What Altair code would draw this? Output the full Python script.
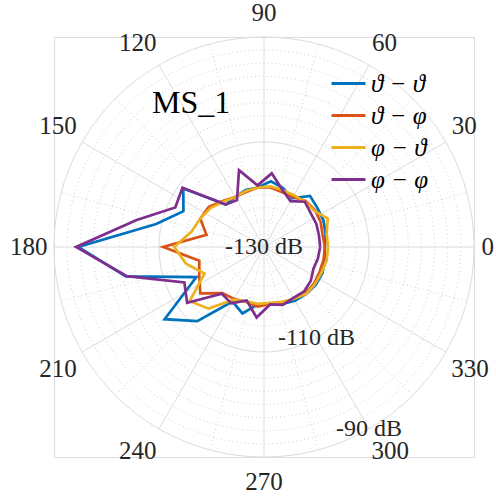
import altair as alt
import numpy as np
import pandas as pd

# ---- data (dB) sampled every 12 degrees ----
angle_deg = list(range(0, 360, 12))

theta_theta = [-118.4, -118.0, -117.6, -117.4, -116.9, -119.3, -118.2, -117.4, -118.6, -118.6,
               -119.0, -119.1, -111.0, -113.2, -109.0, -94.6, -103.1, -115.9, -106.6, -111.0,
               -118.0, -116.7, -119.0, -119.0, -118.6, -118.2, -118.0, -117.8, -117.8, -118.2]
theta_phi = [-118.4, -118.6, -118.2, -118.0, -118.2, -119.0, -119.0, -118.6, -118.6, -119.0,
             -119.0, -118.2, -117.0, -116.7, -118.8, -110.8, -117.4, -116.5, -115.0, -118.2,
             -118.6, -119.0, -118.6, -119.1, -118.8, -118.6, -118.2, -118.2, -118.4, -118.4]
phi_theta = [-117.8, -117.8, -116.7, -118.2, -118.4, -118.6, -118.6, -118.4, -118.6, -118.8,
             -119.0, -118.4, -117.4, -116.7, -115.9, -112.9, -114.8, -117.6, -112.5, -114.2,
             -118.4, -119.1, -119.1, -119.3, -119.0, -118.6, -118.0, -118.0, -118.0, -117.8]
phi_phi = [-119.3, -119.3, -119.1, -119.0, -118.4, -119.9, -118.6, -115.9, -118.2, -114.6,
           -119.7, -119.1, -110.8, -111.5, -105.2, -94.2, -103.3, -113.4, -111.9, -118.0,
           -117.6, -119.3, -116.5, -119.0, -118.4, -118.8, -118.6, -119.0, -119.7, -119.5]

series_names = ["ϑ − ϑ", "ϑ − φ", "φ − ϑ", "φ − φ"]
series_values = [theta_theta, theta_phi, phi_theta, phi_phi]
series_colors = ["#0072BD", "#D95319", "#EDB120", "#7E2F8E"]

r_min, r_max = -130, -90
r_ticks = [-130, -110, -90]
r_minor_step = 2.5
theta_ticks = list(range(0, 360, 30))
theta_minor = list(range(15, 360, 30))

plot_size = 420
span = r_max - r_min
px = plot_size / (2 * span)          # pixels per dB unit
label_angle = 300
serif = "Liberation Serif"

# ---- tables ----
rows = []
for name, vals in zip(series_names, series_values):
    for a, v in zip(angle_deg + [360], vals + [vals[0]]):
        rows.append({"series": name, "angle": a, "level": v})
traces = pd.DataFrame(rows)

ring_angles = list(range(0, 361, 2))
major_rings = pd.DataFrame([{"level": L, "angle": a} for L in r_ticks[1:] for a in ring_angles])
minor_levels = [float(v) for v in np.arange(r_min + r_minor_step, r_max, r_minor_step)
                if not any(abs(v - t) < 1e-9 for t in r_ticks)]
minor_rings = pd.DataFrame([{"level": L, "angle": a} for L in minor_levels for a in ring_angles])

spokes_major = pd.DataFrame({"angle": theta_ticks})
spokes_minor = pd.DataFrame({"angle": theta_minor})
r_labels = pd.DataFrame({"level": r_ticks})
theta_labels = pd.DataFrame({"angle": theta_ticks})
title_df = pd.DataFrame({"label": ["MS_1"]})

# ---- shared encodings ----
xs = alt.Scale(domain=[-span, span], nice=False, zero=False)
ys = alt.Scale(domain=[-span, span], nice=False, zero=False)
X = alt.X("x:Q", scale=xs, axis=None)
Y = alt.Y("y:Q", scale=ys, axis=None)

to_xy = dict(
    x=f"(datum.level - ({r_min})) * cos(datum.angle * PI / 180)",
    y=f"(datum.level - ({r_min})) * sin(datum.angle * PI / 180)",
)

grid_color = "#dcdcdc"
minor_color = "#c4c4c4"

major_ring_layer = alt.Chart(major_rings).transform_calculate(**to_xy).mark_line(
    color=grid_color, strokeWidth=1
).encode(x=X, y=Y, detail="level:N", order="angle:Q")

minor_ring_layer = alt.Chart(minor_rings).transform_calculate(**to_xy).mark_line(
    color=minor_color, strokeWidth=0.8, strokeDash=[1, 3]
).encode(x=X, y=Y, detail="level:N", order="angle:Q")

spoke_calc = dict(
    x="0", y="0",
    x2=f"{span} * cos(datum.angle * PI / 180)",
    y2=f"{span} * sin(datum.angle * PI / 180)",
)
major_spoke_layer = alt.Chart(spokes_major).transform_calculate(**spoke_calc).mark_rule(
    color=grid_color, strokeWidth=1
).encode(x=X, y=Y, x2="x2:Q", y2="y2:Q")

minor_spoke_layer = alt.Chart(spokes_minor).transform_calculate(**spoke_calc).mark_rule(
    color=minor_color, strokeWidth=0.8, strokeDash=[1, 3]
).encode(x=X, y=Y, x2="x2:Q", y2="y2:Q")

trace_layer = alt.Chart(traces).transform_calculate(**to_xy).mark_line(
    strokeWidth=2.7, strokeJoin="miter"
).encode(
    x=X, y=Y, order="angle:Q",
    color=alt.Color(
        "series:N",
        scale=alt.Scale(domain=series_names, range=series_colors),
        legend=alt.Legend(
            title=None, orient="none", legendX=276, legendY=28,
            symbolType="stroke", symbolSize=1150, symbolStrokeWidth=3,
            labelFont=serif, labelFontSize=25, labelFontStyle="italic",
            labelColor="#000000", labelOffset=4, rowPadding=0, padding=0,
        ),
    ),
)

# angle labels: the text box sits just outside the outer ring, shifted by half
# its width / height away from the centre
theta_label_layer = alt.Chart(theta_labels).transform_calculate(
    txt="datum.angle + ''",
    c="cos(datum.angle * PI / 180)",
    s="sin(datum.angle * PI / 180)",
).transform_calculate(
    sx="datum.c > 0.01 ? 1 : (datum.c < -0.01 ? -1 : 0)",
    sy="datum.s > 0.01 ? 1 : (datum.s < -0.01 ? -1 : 0)",
).transform_calculate(
    x=f"(218 * datum.c + datum.sx * length(datum.txt) * 5.75) / {px}",
    y=f"(226 * datum.s + datum.sy * 8.5) / {px}",
).mark_text(font=serif, fontSize=25, color="#262626", align="center", baseline="middle").encode(
    x=X, y=Y, text="txt:N"
)

r_label_layer = alt.Chart(r_labels).transform_calculate(
    x=f"(datum.level - ({r_min})) * cos({label_angle} * PI / 180)",
    y=f"(datum.level - ({r_min})) * sin({label_angle} * PI / 180)",
    txt="datum.level + ' dB'",
).mark_text(font=serif, fontSize=24, color="#262626", align="center", baseline="middle").encode(
    x=X, y=Y, text="txt:N"
)

title_layer = alt.Chart(title_df).mark_text(
    font=serif, fontSize=32, color="#000000", align="left", baseline="alphabetic"
).encode(x=alt.value(98), y=alt.value(76), text="label:N")

chart = alt.layer(
    minor_ring_layer, minor_spoke_layer, major_ring_layer, major_spoke_layer,
    trace_layer, r_label_layer, theta_label_layer, title_layer,
).properties(
    width=plot_size, height=plot_size,
    autosize=alt.AutoSizeParams(type="none"),
    padding={"left": 54, "top": 37, "right": 22, "bottom": 39},
).configure_view(stroke=None).configure(background="white")

chart.save("out.html", embed_options={"renderer": "svg", "actions": False})
